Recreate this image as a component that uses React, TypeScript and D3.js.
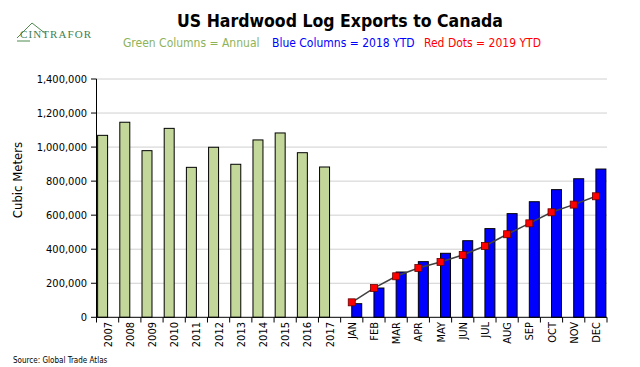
import React from "react";
import * as d3 from "d3";

const years = ["2007","2008","2009","2010","2011","2012","2013","2014","2015","2016","2017"];
const annualValues = [1069000,1146000,979000,1110000,881000,999000,899000,1042000,1083000,967000,883000];
const months = ["JAN","FEB","MAR","APR","MAY","JUN","JUL","AUG","SEP","OCT","NOV","DEC"];
const ytd2018 = [80000,172000,266000,327000,376000,450000,521000,609000,679000,750000,814000,871000];
const ytd2019 = [88000,172000,241000,290000,325000,366000,419000,488000,552000,617000,662000,711000];
const yTicks = [0,200000,400000,600000,800000,1000000,1200000,1400000];

const W = 640, H = 367;
const FONT = "'DejaVu Sans Condensed', 'DejaVu Sans', Verdana, sans-serif";

export default function App() {
  const cats = [...years, ...months];
  const x = d3.scaleBand<string>().domain(cats).range([96.5, 607]).paddingInner(0).paddingOuter(0);
  const y = d3.scaleLinear().domain([0, 1400000]).range([317.3, 79]);
  const bw = x.bandwidth();
  const fmt = d3.format(",");
  const line = d3.line<number>()
    .x((_, i) => (x(months[i]) as number) + bw / 2)
    .y((v) => y(v));

  return (
    <svg width={W} height={H} style={{ position: "absolute", left: 0, top: 0, background: "#fff" }} fontFamily={FONT}>
      {/* logo */}
      <g stroke="#4e8a4e" fill="none" strokeWidth={1}>
        <polyline points="17,38 32,23 46,34" />
        <line x1={17} y1={41} x2={30} y2={41} />
      </g>
      <text x={20} y={38} fontFamily="'Liberation Serif', serif" fontSize={11} fill="#3f7f4f" letterSpacing={1.1}>CINTRAFOR</text>

      {/* title */}
      <text x={340} y={27} textAnchor="middle" fontSize={17.5} fontWeight="bold" fill="#000">US Hardwood Log Exports to Canada</text>
      <text y={47} fontSize={12}>
        <tspan x={123} fill="#8db359">Green Columns = Annual</tspan>
        <tspan x={272} fill="#0000ff">Blue Columns = 2018 YTD</tspan>
        <tspan x={424} fill="#ff0000">Red Dots = 2019 YTD</tspan>
      </text>

      {/* gridlines */}
      {yTicks.filter((t) => t > 0).map((t) => (
        <line key={t} x1={96.5} x2={607} y1={y(t)} y2={y(t)} stroke="#a0a0a0" strokeWidth={1} strokeDasharray="1,1" />
      ))}

      {/* y axis */}
      <line x1={96.5} x2={96.5} y1={79} y2={317.3} stroke="#000" />
      {yTicks.map((t) => (
        <g key={t}>
          <line x1={91} x2={96.5} y1={y(t)} y2={y(t)} stroke="#000" />
          <text x={87} y={y(t) + 4} textAnchor="end" fontSize={11} fill="#000">{fmt(t)}</text>
        </g>
      ))}
      <text transform={`translate(22,180) rotate(-90)`} textAnchor="middle" fontSize={13} fill="#000">Cubic Meters</text>

      {/* bars */}
      {years.map((c, i) => (
        <rect key={c} x={(x(c) as number) + bw * 0.05} width={bw * 0.45} y={y(annualValues[i])} height={y(0) - y(annualValues[i])}
          fill="#c4d79b" stroke="#000" strokeWidth={1} />
      ))}
      {months.map((c, i) => (
        <rect key={c} x={(x(c) as number) + bw * 0.5} width={bw * 0.45} y={y(ytd2018[i])} height={y(0) - y(ytd2018[i])}
          fill="#0000ff" stroke="#000" strokeWidth={1} />
      ))}

      {/* line + dots */}
      <path d={line(ytd2019) || ""} fill="none" stroke="#404040" strokeWidth={1.5} />
      {months.map((c, i) => (
        <rect key={c} x={(x(c) as number) + bw / 2 - 3.5} y={y(ytd2019[i]) - 3.5} width={7} height={7} fill="#ff0000" stroke="#600" strokeWidth={0.8} />
      ))}

      {/* x axis */}
      <line x1={96.5} x2={607} y1={317.3} y2={317.3} stroke="#000" />
      {cats.map((c) => (
        <line key={"t" + c} x1={x(c) as number} x2={x(c) as number} y1={317.3} y2={322.5} stroke="#000" />
      ))}
      <line x1={607} x2={607} y1={317.3} y2={322.5} stroke="#000" />
      {cats.map((c) => (
        <text key={"l" + c} transform={`translate(${(x(c) as number) + bw / 2 + 4},${322}) rotate(-90)`} textAnchor="end" fontSize={11} fill="#000">{c}</text>
      ))}

      <text x={13} y={363} fontSize={8} fill="#000">Source: Global Trade Atlas</text>
    </svg>
  );
}
